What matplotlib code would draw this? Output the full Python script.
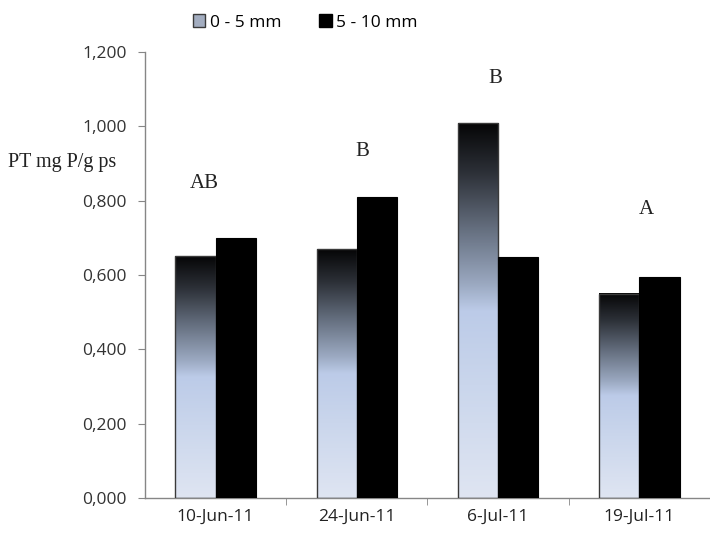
import numpy as np
import matplotlib
matplotlib.use('Agg')
import matplotlib.pyplot as plt
from matplotlib.colors import LinearSegmentedColormap
from matplotlib.patches import Patch
from matplotlib.ticker import FuncFormatter

# Données
dates = ['10-Jun-11', '24-Jun-11', '6-Jul-11', '19-Jul-11']
pt_0_5 = [0.651, 0.670, 1.009, 0.549]
pt_5_10 = [0.700, 0.810, 0.648, 0.595]
letters = ['AB', 'B', 'B', 'A']
letter_y = [0.847, 0.931, 1.130, 0.775]
letter_dx = [-0.08, 0.04, -0.02, 0.05]

# Dégradé noir -> bleu clair pour la série 0-5 mm
grad = LinearSegmentedColormap.from_list('grad', [
    (0.00, '#dfe5f2'),
    (0.30, '#cad6ec'),
    (0.50, '#bccbe8'),
    (0.57, '#9ba9c1'),
    (0.72, '#646e7e'),
    (0.87, '#2c3037'),
    (1.00, '#060607'),
])

fig = plt.figure(figsize=(7.1, 5.36), dpi=100)
ax = fig.add_axes([0.2042, 0.071, 0.7958, 0.832])

x = np.arange(len(dates))
w = 0.285
axis_col = '#868686'
tick_font = 'Open Sans'
serif_font = 'Liberation Serif'

# Barres 0-5 mm : image en dégradé + contour
for xi, h in zip(x - w / 2, pt_0_5):
    img = np.linspace(0, 1, 256).reshape(-1, 1)
    ax.imshow(img, cmap=grad, origin='lower', aspect='auto',
              extent=[xi - w / 2, xi + w / 2, 0, h], zorder=2)
ax.bar(x - w / 2, pt_0_5, w, facecolor='none', edgecolor='#3a3a3a',
       linewidth=1.0, zorder=3)

# Barres 5-10 mm
ax.bar(x + w / 2, pt_5_10, w, color='black', edgecolor='black',
       linewidth=0.8, zorder=3)

# Lettres de significativité
for xi, lab, ly, dx in zip(x, letters, letter_y, letter_dx):
    ax.text(xi + dx, ly, lab, ha='center', va='center', fontsize=15,
            family=serif_font, color='#222222')

ax.set_xlim(-0.5, 3.5)
ax.set_ylim(0, 1.2)
ax.set_yticks(np.arange(0, 1.21, 0.2))
ax.yaxis.set_major_formatter(FuncFormatter(lambda v, p: f'{v:.3f}'.replace('.', ',')))
ax.set_xticks(x)
ax.set_xticklabels(dates)
ax.set_xticks([0.5, 1.5, 2.5], minor=True)

for s in ['top', 'right']:
    ax.spines[s].set_visible(False)
for s in ['left', 'bottom']:
    ax.spines[s].set_color(axis_col)
    ax.spines[s].set_linewidth(1.0)

ax.tick_params(axis='y', direction='out', length=5, color=axis_col,
               labelsize=12.5, labelcolor='#333333', pad=8)
ax.tick_params(axis='x', which='major', length=0, labelsize=12.5,
               labelcolor='#222222', pad=8)
ax.tick_params(axis='x', which='minor', direction='out', length=5,
               color=axis_col)
for lab in ax.get_xticklabels() + ax.get_yticklabels():
    lab.set_family(tick_font)

fig.text(0.011, 0.696, 'PT mg P/g ps', fontsize=14.5, family=serif_font,
         color='#222222', ha='left', va='center')

handles = [Patch(facecolor='#a3adc0', edgecolor='#3a3a3a', label='0 - 5 mm'),
           Patch(facecolor='black', edgecolor='black', label='5 - 10 mm')]
fig.legend(handles=handles, loc='center', bbox_to_anchor=(0.43, 0.958),
           ncol=2, frameon=False, handlelength=0.7, handleheight=0.7,
           handletextpad=0.25, columnspacing=2.2,
           prop={'family': tick_font, 'size': 12.5})

fig.savefig('out.png', dpi=100)
